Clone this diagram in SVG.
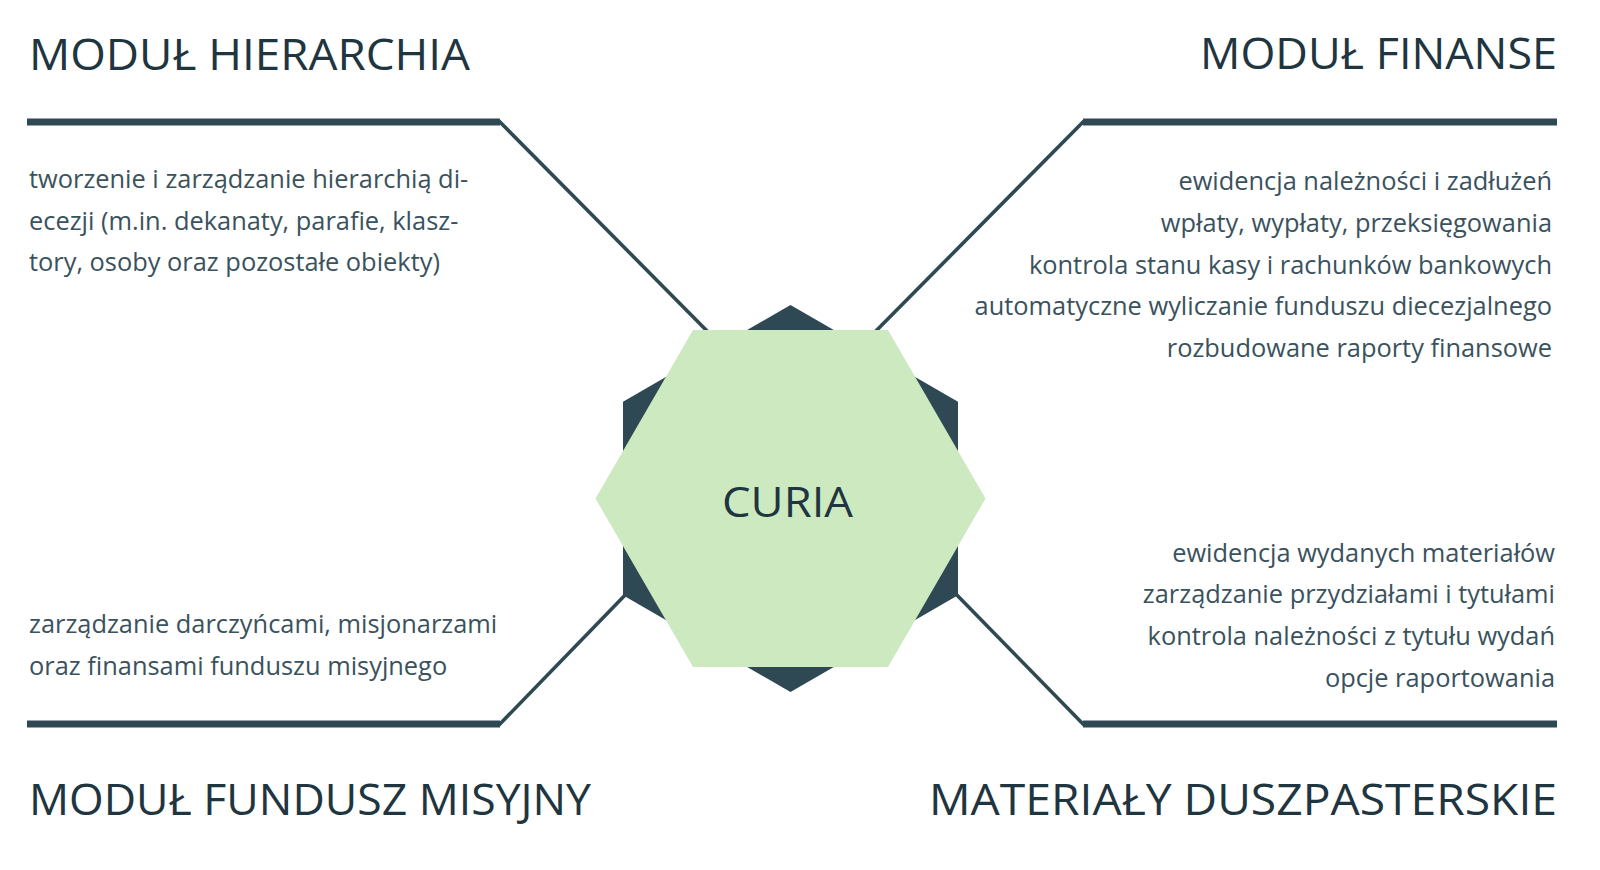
<svg xmlns="http://www.w3.org/2000/svg" width="1600" height="870" viewBox="0 0 1600 870">
  <style>
    .title { font-family: "Open Sans", "Noto Sans", "Liberation Sans", sans-serif; font-size: 44.5px; fill: #1f3540; }
    .body { font-family: "Open Sans", "Noto Sans", "Liberation Sans", sans-serif; font-size: 25.4px; fill: #3a525d; }
    .end { text-anchor: end; }
    .bar { stroke: #2e4953; stroke-width: 7; fill: none; }
    .diag { stroke: #2e4953; stroke-width: 3.6; fill: none; stroke-linecap: butt; }
  </style>
  <rect x="0" y="0" width="1600" height="870" fill="#ffffff"/>

  <g id="connectors">
    <line class="bar" x1="27" y1="122" x2="500" y2="122"/>
    <line class="diag" x1="499" y1="121" x2="715" y2="339"/>
    <line class="bar" x1="1083" y1="122" x2="1557" y2="122"/>
    <line class="diag" x1="1084" y1="121" x2="868" y2="339"/>
    <line class="bar" x1="27" y1="724" x2="500" y2="724"/>
    <line class="diag" x1="499" y1="725" x2="630" y2="590"/>
    <line class="bar" x1="1083" y1="724" x2="1557" y2="724"/>
    <line class="diag" x1="1084" y1="725" x2="952" y2="590"/>
  </g>

  <g id="curia">
    <polygon points="790.5,305 958,401.75 958,595.25 790.5,692 623,595.25 623,401.75" fill="#2e4953"/>
    <polygon points="595.5,498.5 693,330 888,330 985.5,498.5 888,667 693,667" fill="#cde9c0"/>
    <text x="787.5" y="517" text-anchor="middle" textLength="131" lengthAdjust="spacingAndGlyphs" style="font-family:'Open Sans','Noto Sans','Liberation Sans',sans-serif;font-size:42px;fill:#1f3540">CURIA</text>
  </g>

  <g id="modul-hierarchia">
    <text class="title" x="29" y="70" textLength="441" lengthAdjust="spacingAndGlyphs">MODUŁ HIERARCHIA</text>
    <text class="body" x="29" y="188">tworzenie i zarządzanie hierarchią di-</text>
    <text class="body" x="29" y="229.5">ecezji (m.in. dekanaty, parafie, klasz-</text>
    <text class="body" x="29" y="271">tory, osoby oraz pozostałe obiekty)</text>
  </g>

  <g id="modul-finanse">
    <text class="title end" x="1557" y="69" textLength="357" lengthAdjust="spacingAndGlyphs">MODUŁ FINANSE</text>
    <text class="body end" x="1552" y="190">ewidencja należności i zadłużeń</text>
    <text class="body end" x="1552" y="232">wpłaty, wypłaty, przeksięgowania</text>
    <text class="body end" x="1552" y="273.5">kontrola stanu kasy i rachunków bankowych</text>
    <text class="body end" x="1552" y="315">automatyczne wyliczanie funduszu diecezjalnego</text>
    <text class="body end" x="1552" y="357">rozbudowane raporty finansowe</text>
  </g>

  <g id="modul-fundusz-misyjny">
    <text class="body" x="29" y="633">zarządzanie darczyńcami, misjonarzami</text>
    <text class="body" x="29" y="675">oraz finansami funduszu misyjnego</text>
    <text class="title" x="29" y="815" textLength="562" lengthAdjust="spacingAndGlyphs">MODUŁ FUNDUSZ MISYJNY</text>
  </g>

  <g id="materialy-duszpasterskie">
    <text class="body end" x="1555" y="561.5">ewidencja wydanych materiałów</text>
    <text class="body end" x="1555" y="603">zarządzanie przydziałami i tytułami</text>
    <text class="body end" x="1555" y="645">kontrola należności z tytułu wydań</text>
    <text class="body end" x="1555" y="686.5">opcje raportowania</text>
    <text class="title end" x="1557" y="815" textLength="628" lengthAdjust="spacingAndGlyphs">MATERIAŁY DUSZPASTERSKIE</text>
  </g>
</svg>
